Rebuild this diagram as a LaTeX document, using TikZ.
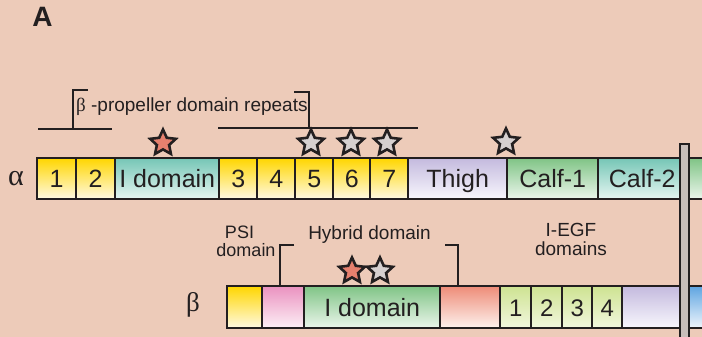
\documentclass[tikz,border=0pt]{standalone}
\usepackage{fontspec}
\setmainfont{Liberation Sans}
\newfontfamily\greekserif{Liberation Serif}
\usetikzlibrary{shapes.geometric}

\definecolor{bg}{RGB}{237,203,185}
\definecolor{ink}{RGB}{35,31,32}
\definecolor{yelT}{RGB}{255,214,0}
\definecolor{yelB}{RGB}{255,250,228}
\definecolor{tealT}{RGB}{118,198,182}
\definecolor{tealB}{RGB}{230,246,242}
\definecolor{lavT}{RGB}{196,186,222}
\definecolor{lavB}{RGB}{248,247,253}
\definecolor{grnT}{RGB}{128,196,134}
\definecolor{grnB}{RGB}{236,246,236}
\definecolor{pnkT}{RGB}{234,146,192}
\definecolor{pnkB}{RGB}{253,240,246}
\definecolor{salT}{RGB}{238,140,120}
\definecolor{salB}{RGB}{253,242,238}
\definecolor{egfT}{RGB}{206,227,146}
\definecolor{egfB}{RGB}{242,247,222}
\definecolor{bluT}{RGB}{95,165,225}
\definecolor{bluB}{RGB}{240,246,252}
\definecolor{starpink}{RGB}{230,128,110}
\definecolor{stargrey}{RGB}{214,208,208}
\definecolor{barfill}{RGB}{200,190,186}

\tikzset{
  dom/.style={draw=ink, line width=2.4pt, inner sep=0pt, anchor=north west,
    text=ink, font=\fontsize{25}{25}\selectfont, text height=18pt, text depth=0pt},
  arow/.style={dom, minimum height=41pt},
  brow/.style={dom, minimum height=42pt},
  yelfill/.style={top color=yelT, bottom color=yelB},
  tealfill/.style={top color=tealT, bottom color=tealB},
  lavfill/.style={top color=lavT, bottom color=lavB},
  grnfill/.style={top color=grnT, bottom color=grnB},
  pnkfill/.style={top color=pnkT, bottom color=pnkB},
  salfill/.style={top color=salT, bottom color=salB},
  egffill/.style={top color=egfT, bottom color=egfB},
  blufill/.style={top color=bluT, bottom color=bluB},
  mystar/.style={star, star points=5, star point ratio=2.1, minimum size=27pt,
    inner sep=0pt, draw=ink, line width=2.6pt, line join=miter},
  bracket/.style={draw=ink, line width=2pt},
  label/.style={text=ink, inner sep=0pt, font=\fontsize{19}{19}\selectfont},
}

\begin{document}
\begin{tikzpicture}[x=1pt, y=-1pt]
  \fill[bg] (0,0) rectangle (702,337);
  \useasboundingbox (0,0) rectangle (702,337);

  % panel letter
  \node[text=ink, inner sep=0pt, anchor=base, font=\bfseries\fontsize{28}{28}\selectfont] (panelA) at (42.5,27) {A};

  % alpha chain
  \node[text=ink, inner sep=0pt, font=\greekserif\fontsize{30}{30}\selectfont] (alpha) at (16,179) {α};
  \node[arow, yelfill,  minimum width=39pt] (a1) at (36,157) {1};
  \node[arow, yelfill,  minimum width=39pt] (a2) at (75,157) {2};
  \node[arow, tealfill, minimum width=104pt] (aI) at (114,157) {I domain};
  \node[arow, yelfill,  minimum width=38pt] (a3) at (218,157) {3};
  \node[arow, yelfill,  minimum width=38pt] (a4) at (256,157) {4};
  \node[arow, yelfill,  minimum width=38pt] (a5) at (294,157) {5};
  \node[arow, yelfill,  minimum width=37pt] (a6) at (332,157) {6};
  \node[arow, yelfill,  minimum width=38pt] (a7) at (369,157) {7};
  \node[arow, lavfill,  minimum width=99pt] (thigh) at (407,157) {Thigh};
  \node[arow, grnfill,  minimum width=91pt] (calf1) at (506,157) {Calf-1};
  \node[arow, tealfill, minimum width=88pt] (calf2) at (597,157) {Calf-2};
  \node[arow, grnfill,  minimum width=40pt] (atail) at (688,157) {};

  % beta chain
  \node[text=ink, inner sep=0pt, font=\greekserif\fontsize{27}{27}\selectfont] (beta) at (193,305) {β};
  \node[brow, yelfill, minimum width=35pt] (psi1) at (226,285) {};
  \node[brow, pnkfill, minimum width=42pt] (psi2) at (261,285) {};
  \node[brow, grnfill, minimum width=136pt] (bI) at (303,285) {I domain};
  \node[brow, salfill, minimum width=60pt] (hyb) at (439,285) {};
  \node[brow, egffill, minimum width=31pt, font=\fontsize{24}{24}\selectfont] (e1) at (499,285) {1};
  \node[brow, egffill, minimum width=31pt, font=\fontsize{24}{24}\selectfont] (e2) at (530,285) {2};
  \node[brow, egffill, minimum width=30pt, font=\fontsize{24}{24}\selectfont] (e3) at (561,285) {3};
  \node[brow, egffill, minimum width=30pt, font=\fontsize{24}{24}\selectfont] (e4) at (591,285) {4};
  \node[brow, lavfill, minimum width=67pt] (bstalk) at (621,285) {};
  \node[brow, blufill, minimum width=40pt] (btail) at (688,285) {};

  % membrane
  \node[draw=ink, line width=2pt, fill=barfill, inner sep=0pt, anchor=north west,
        minimum width=9pt, minimum height=215pt] (membrane) at (679,143) {};

  % stars on the alpha chain
  \node[mystar, fill=starpink] (sI) at (163,143) {};
  \node[mystar, fill=stargrey] (s5) at (311,143) {};
  \node[mystar, fill=stargrey] (s6) at (351,143) {};
  \node[mystar, fill=stargrey] (s7) at (387,143) {};
  \node[mystar, fill=stargrey] (sT) at (506,142) {};

  % stars on the beta chain
  \node[mystar, fill=starpink] (sbI) at (352,271) {};
  \node[mystar, fill=stargrey] (sbH) at (380,271) {};

  % beta-propeller repeats bracket
  \node[label, anchor=base west] (proplab) at (76,111) {{\greekserif β} -propeller domain repeats};
  \draw[bracket] (38,129) -- (112,129);
  \draw[bracket] (73,129) -- (73,90) -- (88,90);
  \draw[bracket] (218,128) -- (418,128);
  \draw[bracket] (309,128) -- (309,92) -- (294,92);

  % beta chain labels
  \node[label, align=center, anchor=base, font=\fontsize{18}{17.5}\selectfont] (psilab) at (246,256) {PSI\hspace*{13pt}\\domain};
  \node[label, anchor=base] (hyblab) at (369.5,239) {Hybrid domain};
  \draw[bracket] (294,245) -- (280,245) -- (280,285);
  \draw[bracket] (445,245) -- (458,245) -- (458,285);
  \node[label, align=center, anchor=base] (egflab) at (571,255) {I-EGF\\domains};
\end{tikzpicture}
\end{document}
